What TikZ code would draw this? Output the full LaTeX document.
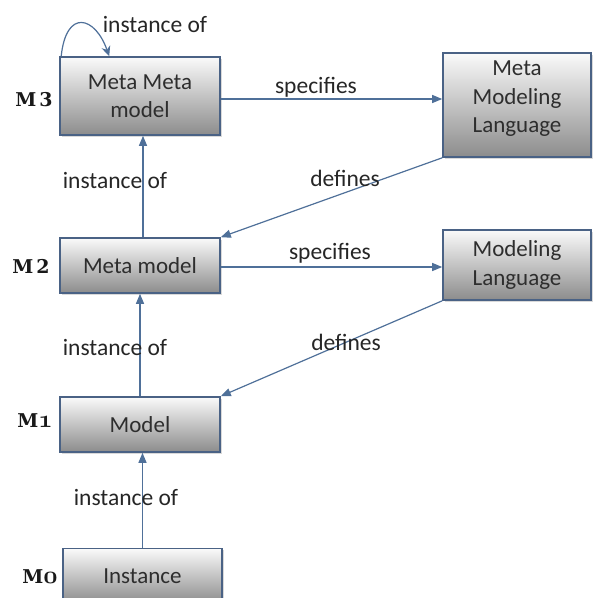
\documentclass[tikz,border=0pt]{standalone}
\usepackage{fontspec}
\newfontfamily\boxfont{Carlito}
\newfontfamily\lvlfont{DejaVu Serif}
\usetikzlibrary{shadows,arrows.meta,calc}
\definecolor{bordc}{HTML}{4A6285}
\definecolor{linec}{HTML}{4F7099}
\begin{document}
\begin{tikzpicture}[x=1pt,y=-1pt,
  box/.style={draw=bordc, line width=1.6pt, top color=black!2, bottom color=black!45,
    drop shadow={opacity=0.3, shadow xshift=1.5pt, shadow yshift=-1.5pt},
    align=center, font=\boxfont\fontsize{23}{28.5}\selectfont, text=black!82, inner sep=0pt},
  arr/.style={draw=linec, line width=1.2pt, -{Triangle[length=10pt,width=8pt]}},
  lab/.style={font=\boxfont\fontsize{23.5}{26}\selectfont, text=black!85, inner sep=0pt},
  lvl/.style={font=\lvlfont\fontsize{19}{22}\selectfont\bfseries, text=black!90, inner sep=0pt}]
\useasboundingbox (0,0) rectangle (593,598);
% boxes
\node[box, minimum width=160pt, minimum height=78pt] (mmm) at (140,96) {Meta Meta\\model};
\node[box, minimum width=148pt, minimum height=104pt] (mml) at (517,105) {Meta\\Modeling\\Language\\[-12pt]\mbox{}};
\node[box, minimum width=160pt, minimum height=55pt] (mm) at (140,265.5) {Meta model};
\node[box, minimum width=148pt, minimum height=70pt] (ml) at (517,265) {Modeling\\Language};
\node[box, minimum width=160pt, minimum height=55pt] (model) at (140,424.5) {Model};
\node[box, minimum width=159pt, minimum height=55pt] (inst) at (142.5,576) {Instance};
% level labels
\node[lvl] (m3) at (34,100) {M\hspace{3pt}3};
\node[lvl] (m2) at (31,266) {M\hspace{3pt}2};
\node[lvl] (m1) at (35,421) {M{\usefont{OML}{cmm}{b}{it}\fontsize{23}{24}\selectfont 1}};
\node[lvl] (m0) at (40,577) {M{\usefont{OML}{cmm}{b}{it}\fontsize{23}{24}\selectfont 0}};
% connectors
\draw[draw=linec, line width=1.2pt, -{Stealth[length=10pt,width=9pt]}]
  ([xshift=2pt]mmm.north west) .. controls +(5,-48) and +(-14,-40) .. ([xshift=50pt]mmm.north west);
\draw[arr] ([xshift=3pt]mm.north) -- ([xshift=3pt]mmm.south);
\draw[arr] (model.north) -- (mm.south);
\draw[arr] (inst.north) -- (inst.north |- model.south);
\draw[arr] ([yshift=-3pt]mmm.east) -- ([yshift=-3pt]mmm.east -| mml.west);
\draw[arr] ([yshift=-1.5pt]mm.east) -- ([yshift=-1.5pt]mm.east -| ml.west);
\draw[arr] (mml.south west) -- (mm.north east);
\draw[arr] (ml.south west) -- (model.north east);
% labels
\node[lab] (l0) at (155,24) {instance of};
\node[lab] (l1) at (316,87) {specifies};
\node[lab] (l2) at (345,178) {defines};
\node[lab] (l3) at (115,180) {instance of};
\node[lab] (l4) at (330,253) {specifies};
\node[lab] (l5) at (346,342) {defines};
\node[lab] (l6) at (115,347) {instance of};
\node[lab] (l7) at (126,497) {instance of};
\end{tikzpicture}
\end{document}
